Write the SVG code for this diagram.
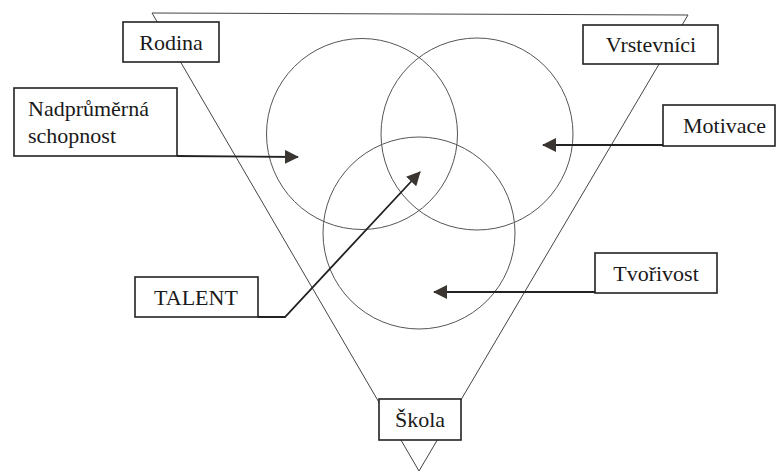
<svg xmlns="http://www.w3.org/2000/svg" width="777" height="473" viewBox="0 0 777 473">
<style>
.box{fill:#fff;stroke:#222;stroke-width:1.6}
.lbl{font-family:'Liberation Serif','DejaVu Serif',serif;font-size:22px;fill:#1a1a1a}
.circ{fill:none;stroke:#555;stroke-width:1}
.tri{fill:none;stroke:#444;stroke-width:1}
.conn{fill:none;stroke:#222;stroke-width:1.8}
</style>
<defs>
<marker id="ah" viewBox="0 0 14 14" refX="13" refY="7" markerWidth="14" markerHeight="14" markerUnits="userSpaceOnUse" orient="auto">
<path d="M0,0 L14,7 L0,14 Z" fill="#3a3530"/>
</marker>
</defs>
<rect width="777" height="473" fill="#fff"/>
<g id="shapes">
<polygon class="tri" points="152,13 688,15 419,471"/>
<circle class="circ" cx="362" cy="134" r="95.5"/>
<circle class="circ" cx="477" cy="134" r="96"/>
<circle class="circ" cx="419" cy="233" r="96"/>
</g>
<g id="connectors">
<line class="conn" x1="177" y1="156" x2="298" y2="157" marker-end="url(#ah)"/>
<line class="conn" x1="663" y1="145" x2="543" y2="145" marker-end="url(#ah)"/>
<line class="conn" x1="595" y1="292" x2="434" y2="292" marker-end="url(#ah)"/>
<polyline class="conn" points="258,317 285,317 420,172" marker-end="url(#ah)"/>
</g>
<g id="rodina"><rect class="box" x="123" y="22" width="96" height="40"/><text class="lbl" font-family="Liberation Serif, DejaVu Serif, serif" x="171" y="50" text-anchor="middle">Rodina</text></g>
<g id="vrstevnici"><rect class="box" x="583" y="25" width="135" height="39"/><text class="lbl" font-family="Liberation Serif, DejaVu Serif, serif" x="651" y="52" text-anchor="middle">Vrstevníci</text></g>
<g id="nadprumerna"><rect class="box" x="14" y="88" width="163" height="68"/><text class="lbl" font-family="Liberation Serif, DejaVu Serif, serif" x="28" y="116">Nadprůměrná</text><text class="lbl" font-family="Liberation Serif, DejaVu Serif, serif" x="28" y="143">schopnost</text></g>
<g id="motivace"><rect class="box" x="663" y="105" width="112" height="41"/><text class="lbl" font-family="Liberation Serif, DejaVu Serif, serif" x="683" y="133">Motivace</text></g>
<g id="talent"><rect class="box" x="135" y="277" width="123" height="40"/><text class="lbl" font-family="Liberation Serif, DejaVu Serif, serif" x="196" y="305" text-anchor="middle">TALENT</text></g>
<g id="tvorivost"><rect class="box" x="595" y="253" width="122" height="40"/><text class="lbl" font-family="Liberation Serif, DejaVu Serif, serif" x="656" y="281" text-anchor="middle">Tvořivost</text></g>
<g id="skola"><rect class="box" x="379" y="399" width="82" height="41"/><text class="lbl" font-family="Liberation Serif, DejaVu Serif, serif" x="420" y="427" text-anchor="middle">Škola</text></g>
</svg>
